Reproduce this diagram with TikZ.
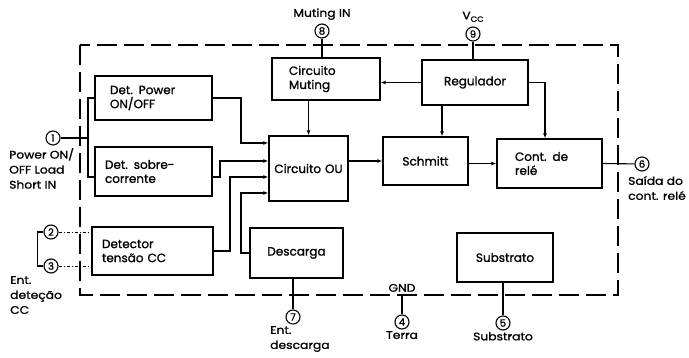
\documentclass[tikz,border=0pt]{standalone}
\usepackage{fontspec}
\setmainfont{Poppins}[FakeBold=1.2]
\newfontfamily\labfont{Poppins}[FakeBold=1.2, FakeStretch=1.12]
\usetikzlibrary{arrows.meta,calc}
\newcommand\blkbox[8]{%
 \pgfmathsetmacro\BxW{#4-#2}\pgfmathsetmacro\BxH{#5-#3}%
 \pgfmathsetmacro\BxT{#4-#2-2*#6}%
 \pgfmathsetmacro\BxX{(#2+#4)/2}\pgfmathsetmacro\BxY{(#3+#5)/2}%
 \node[blk, minimum width=\BxW pt, minimum height=\BxH pt, text width=\BxT pt, inner xsep=#6pt, align=#7] (#1) at (\BxX,\BxY) {#8};}
\tikzset{
 blk/.style={draw, line width=1.3pt, inner ysep=0pt, font=\fontsize{12}{14}\selectfont},
 pinc/.style={circle, draw, line width=1.1pt, minimum size=14pt, inner sep=0pt, font=\fontsize{10}{10}\selectfont},
 lab/.style={inner sep=0pt, align=left, font=\labfont\fontsize{11}{15}\selectfont},
 wire/.style={line width=1.1pt},
 arr/.style={line width=1.1pt, -{Latex[length=5pt,width=4pt]}},
 border/.style={line width=1.5pt, dash pattern=on 20pt off 7pt},
 dotw/.style={line width=0.9pt, dash pattern=on 3pt off 2pt on 1pt off 2pt}
}
\begin{document}
\begin{tikzpicture}[x=1pt,y=-1pt]
\useasboundingbox (0,0) rectangle (689,358);
% dashed IC outline
\draw[border] (80,45) rectangle (618,295);
% blocks
\blkbox{dpow}{95}{76}{212}{120}{15}{left}{Det. Power\\ON/OFF}
\blkbox{dsob}{95}{147}{212}{196}{10}{left}{Det. sobre-\\corrente}
\blkbox{dtc}{92}{227}{213}{275}{10}{left}{Detector\\tensão CC}
\blkbox{mut}{272}{58}{380}{100}{17}{left}{Circuito\\Muting}
\blkbox{reg}{422}{60}{528}{105}{4}{center}{Regulador}
\blkbox{ou}{269}{136}{348}{201}{1}{center}{Circuito OU}
\blkbox{sch}{383}{137}{468}{185}{4}{center}{Schmitt}
\blkbox{cont}{497}{139}{602}{188}{18}{left}{Cont. de\\relé}
\blkbox{dsc}{250}{228}{343}{278}{4}{center}{Descarga}
\blkbox{sub}{457}{233}{553}{282}{4}{center}{Substrato}
% pins
\node[pinc] (p8) at (322,31) {8};
\node[pinc] (p9) at (473,34) {9};
\node[pinc] (p1) at (53,138) {1};
\node[pinc] (p2) at (51,232) {2};
\node[pinc] (p3) at (51,266) {3};
\node[pinc] (p6) at (642,164) {6};
\node[pinc] (p7) at (293,317) {7};
\node[pinc] (p4) at (402,322) {4};
\node[pinc] (p5) at (503,323) {5};
% pin labels
\node[lab, anchor=south] (l8) at (322,20) {Muting IN};
\node[lab, anchor=south] (l9) at (473,22) {V\raisebox{-2.5pt}{\fontsize{7.5}{7.5}\selectfont CC}};
\node[lab, anchor=north west] (l1) at (9,148) {Power ON/\\OFF Load\\Short IN};
\node[lab, anchor=north west] (l23) at (10,276) {Ent.\\deteção\\CC};
\node[lab, anchor=north west] (l6) at (628,176) {Saída do\\cont. relé};
\node[lab, anchor=north west] (l7) at (270,326) {Ent.\\descarga};
\node[lab, anchor=south] (lgnd) at (402,292) {GND};
\node[lab, anchor=north] (l4) at (402,331) {Terra};
\node[lab, anchor=north] (l5) at (503,332) {Substrato};
% helper coordinates
\coordinate (b1) at (88,98);
\coordinate (b2) at (88,177);
\coordinate (y177) at (0,177);
\coordinate (j1) at (241,143);
\coordinate (j2) at (220,161);
\coordinate (j3) at (230,177);
\coordinate (j4) at (241,193);
\coordinate (x442) at (442,0);
\coordinate (x545) at (545,0);
\coordinate (g4) at (402,295);
% pin connections
\draw[wire] (p8) -- (p8 |- mut.north);
\draw[wire] (p9) -- (p9 |- reg.north);
\draw[wire] (p1) -- (p1 -| b1);
\draw[wire] (dpow.west) -- (b1) -- (b2) -- (b2 -| dsob.west);
\draw[wire] (p2.west) -- ++(-6,0) |- (p3.west);
\draw[dotw] (p2) -- (p2 -| dtc.west);
\draw[dotw] (p3) -- (p3 -| dtc.west);
\draw[wire] (cont.east) -- (p6);
\draw[wire] (p7 |- dsc.south) -- (p7);
\draw[wire] (g4) -- (p4);
\draw[wire] (p5 |- sub.south) -- (p5);
% internal signals
\draw[arr] (dpow.east) -| (j1) -- (j1 -| ou.west);
\draw[arr] (dsob.east |- y177) -| (j2) -- (j2 -| ou.west);
\draw[arr] (dtc.east) -| (j3) -- (j3 -| ou.west);
\draw[arr] (dsc.west) -| (j4) -- (j4 -| ou.west);
\draw[arr] (mut.south -| ou.north) -- (ou.north);
\draw[arr] (reg.west) -- (reg.west -| mut.east);
\draw[arr] (reg.south -| x442) -- (sch.north -| x442);
\draw[arr] (reg.east) -| (cont.north -| x545);
\draw[arr] (ou.east |- sch.west) -- (sch.west);
\draw[arr] (sch.east |- cont.west) -- (cont.west);
\end{tikzpicture}
\end{document}
